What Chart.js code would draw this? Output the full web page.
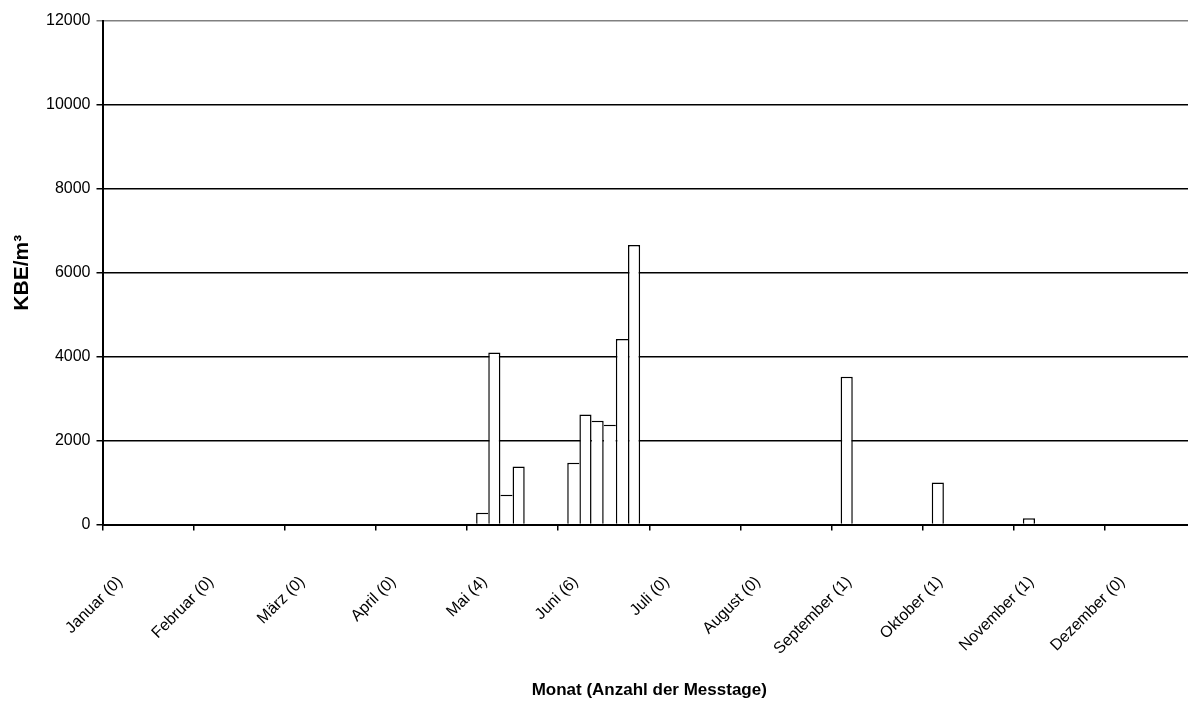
<!DOCTYPE html>
<html>
<head>
<meta charset="utf-8">
<script src="https://cdn.jsdelivr.net/npm/chart.js@4/dist/chart.umd.min.js"></script>
<style>
  html, body { margin: 0; padding: 0; background: #fff; overflow: hidden; }
  #wrap { width: 1200px; height: 702px; }
</style>
</head>
<body>
<div id="wrap"><canvas id="c" width="1200" height="702"></canvas></div>
<script>
// Categories (month + number of measurement days)
const months = ['Januar (0)', 'Februar (0)', 'März (0)', 'April (0)', 'Mai (4)', 'Juni (6)',
                'Juli (0)', 'August (0)', 'September (1)', 'Oktober (1)', 'November (1)', 'Dezember (0)'];
// Values per measurement day within a month (KBE/m³)
const tag1 = [null, null, null, null, 280, 1470, null, null, 3520, 1000, 150, null];
const tag2 = [null, null, null, null, 4100, 2620, null, null, null, null, null, null];
const tag3 = [null, null, null, null, 710, 2470, null, null, null, null, null, null];
const tag4 = [null, null, null, null, 1380, 2380, null, null, null, null, null, null];
const tag5 = [null, null, null, null, null, 4420, null, null, null, null, null, null];
const tag6 = [null, null, null, null, null, 6660, null, null, null, null, null, null];
const yMin = 0, yMax = 12000, yStep = 2000;

const FONT = "'Liberation Sans', Arial, sans-serif";
const series = [tag1, tag2, tag3, tag4, tag5, tag6];
const BW = 1.5;

function sideWidths(ctx) {
  const di = ctx.datasetIndex, i = ctx.dataIndex;
  const v = series[di][i];
  const prev = di > 0 ? series[di - 1][i] : null;
  const next = di < series.length - 1 ? series[di + 1][i] : null;
  return {
    top: BW,
    bottom: 0,
    left: (prev == null || v > prev) ? BW : 0,
    right: (next == null || v >= next) ? BW : 0
  };
}

new Chart(document.getElementById('c'), {
  type: 'bar',
  data: {
    labels: months,
    datasets: series.map((d, i) => ({
      label: 'Messtag ' + (i + 1),
      data: d,
      backgroundColor: '#ffffff',
      borderColor: '#000000',
      borderWidth: sideWidths,
      borderSkipped: 'bottom',
      categoryPercentage: 0.8,
      barPercentage: 1.0
    }))
  },
  options: {
    responsive: false,
    animation: false,
    devicePixelRatio: 1,
    layout: { padding: { top: 21, right: 4, bottom: 0, left: 0 } },
    plugins: { legend: { display: false }, tooltip: { enabled: false } },
    scales: {
      x: {
        offset: true,
        grid: { display: true, drawOnChartArea: false, drawTicks: true, tickLength: 6, color: '#000', lineWidth: 1.5, offset: true },
        border: { display: true, color: '#000', width: 2 },
        ticks: {
          color: '#000', font: { family: FONT, size: 16 },
          minRotation: 45, maxRotation: 45, autoSkip: false,
          padding: 42, labelOffset: -28
        },
        title: {
          display: true, text: 'Monat (Anzahl der Messtage)', color: '#000',
          font: { family: FONT, size: 17, weight: 'bold' }, padding: { top: 0, bottom: 1 }
        },
        afterFit: (s) => { s.height = 177.5; s.paddingLeft = 0; s.paddingRight = 0; }
      },
      y: {
        min: yMin, max: yMax,
        ticks: {
          stepSize: yStep, color: '#000', font: { family: FONT, size: 16 }, padding: 6,
          callback: (v) => String(v)
        },
        grid: {
          color: (ctx) => (ctx.tick && ctx.tick.value === yMax) ? '#808080' : '#000',
          lineWidth: 1.5, drawTicks: true, tickLength: 6
        },
        border: { display: true, color: '#000', width: 2 },
        title: {
          display: true, text: 'KBE/m³', color: '#000',
          font: { family: FONT, size: 21, weight: 'bold' }, padding: { top: 10, bottom: 0 }
        },
        afterFit: (s) => { s.width = 102.5; s.paddingTop = 0; s.paddingBottom = 0; }
      }
    }
  }
});
</script>
</body>
</html>
